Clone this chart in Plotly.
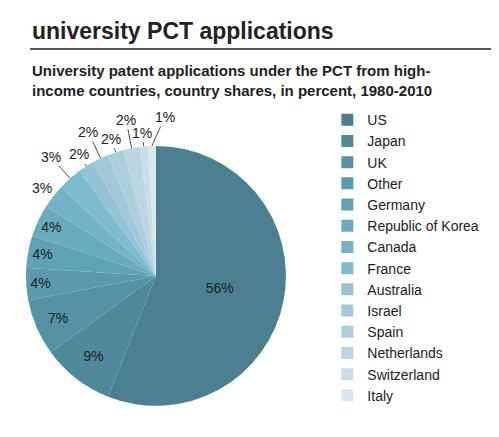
import math
import plotly.graph_objects as pgo

countries = ["US", "Japan", "UK", "Other", "Germany", "Republic of Korea", "Canada",
             "France", "Australia", "Israel", "Spain", "Netherlands", "Switzerland", "Italy"]
shares = [56, 9, 7, 4, 4, 4, 3, 3, 2, 2, 2, 2, 1, 1]
colors = ["#4a8090", "#4f8a9a", "#5592a3", "#5a9aac", "#60a2b5", "#68aabe", "#72b3c8",
          "#7ebbd0", "#93c3d4", "#a0c8d8", "#adcfdc", "#bbd6e2", "#c8dde7", "#d8e6ee"]
n_inside = 6  # big slices get labels inside, the small ones outside with leader lines

W, H = 499, 437
dom_x = [0.036, 0.557]
dom_y = [0.084, 0.69]

inside_text = [f"{v}%" if i < n_inside else "" for i, v in enumerate(shares)]

fig = pgo.Figure(pgo.Pie(
    labels=countries, values=shares, sort=False, direction="clockwise", rotation=0,
    marker=dict(colors=colors, line=dict(width=0)),
    text=inside_text, texttemplate="%{text}", textposition="inside",
    textfont=dict(size=14, color="#222222"), insidetextorientation="horizontal",
    domain=dict(x=dom_x, y=dom_y),
    hoverinfo="label+value"))

# outside labels, placed from the slice angles
cx = (dom_x[0] + dom_x[1]) / 2 * W
cy = (1 - (dom_y[0] + dom_y[1]) / 2) * H
r = min((dom_x[1] - dom_x[0]) * W, (dom_y[1] - dom_y[0]) * H) / 2
total = sum(shares)
annots = []
cum = 0
k = 0
for i, v in enumerate(shares):
    mid = (cum + v / 2) / total * 360
    cum += v
    if i < n_inside:
        continue
    ang = mid + (5 if i == len(shares) - 1 else 0)
    t = math.radians(ang)
    tr = r + (14 if k % 2 == 0 else 29)
    k += 1
    ex, ey = cx + r * math.sin(math.radians(mid)), cy - r * math.cos(math.radians(mid))
    tx, ty = cx + tr * math.sin(t), cy - tr * math.cos(t)
    annots.append(dict(text=f"{v}%", x=ex / W, y=1 - ey / H, xref="paper", yref="paper",
                       ax=tx - ex, ay=ty - ey, showarrow=True, arrowhead=0, arrowwidth=0.8,
                       arrowcolor="#222222", font=dict(size=14, color="#222222")))

fig.update_layout(
    width=W, height=H, margin=dict(l=0, r=0, t=0, b=0),
    paper_bgcolor="white", plot_bgcolor="white",
    font=dict(family="Liberation Sans, Arial, sans-serif", color="#222222"),
    legend=dict(x=0.64, y=0.78, xanchor="left", yanchor="top",
                font=dict(size=14, color="#222222"), tracegroupgap=0,
                itemwidth=30),
    annotations=[
        dict(text="<b>university PCT applications</b>", x=22 / W, y=1 - 23 / H,
             xref="paper", yref="paper", xanchor="left", yanchor="middle",
             showarrow=False, font=dict(size=23)),
        dict(text="<b>University patent applications under the PCT from high-<br>income countries, country shares, in percent, 1980-2010</b>",
             x=22 / W, y=1 - 72 / H, xref="paper", yref="paper", xanchor="left", yanchor="middle",
             showarrow=False, font=dict(size=15), align="left"),
    ] + annots,
    shapes=[dict(type="line", xref="paper", yref="paper", x0=22 / W, x1=1,
                 y0=1 - 41 / H, y1=1 - 41 / H, line=dict(color="#222222", width=1.5))],
)

fig.write_html("out.html")
